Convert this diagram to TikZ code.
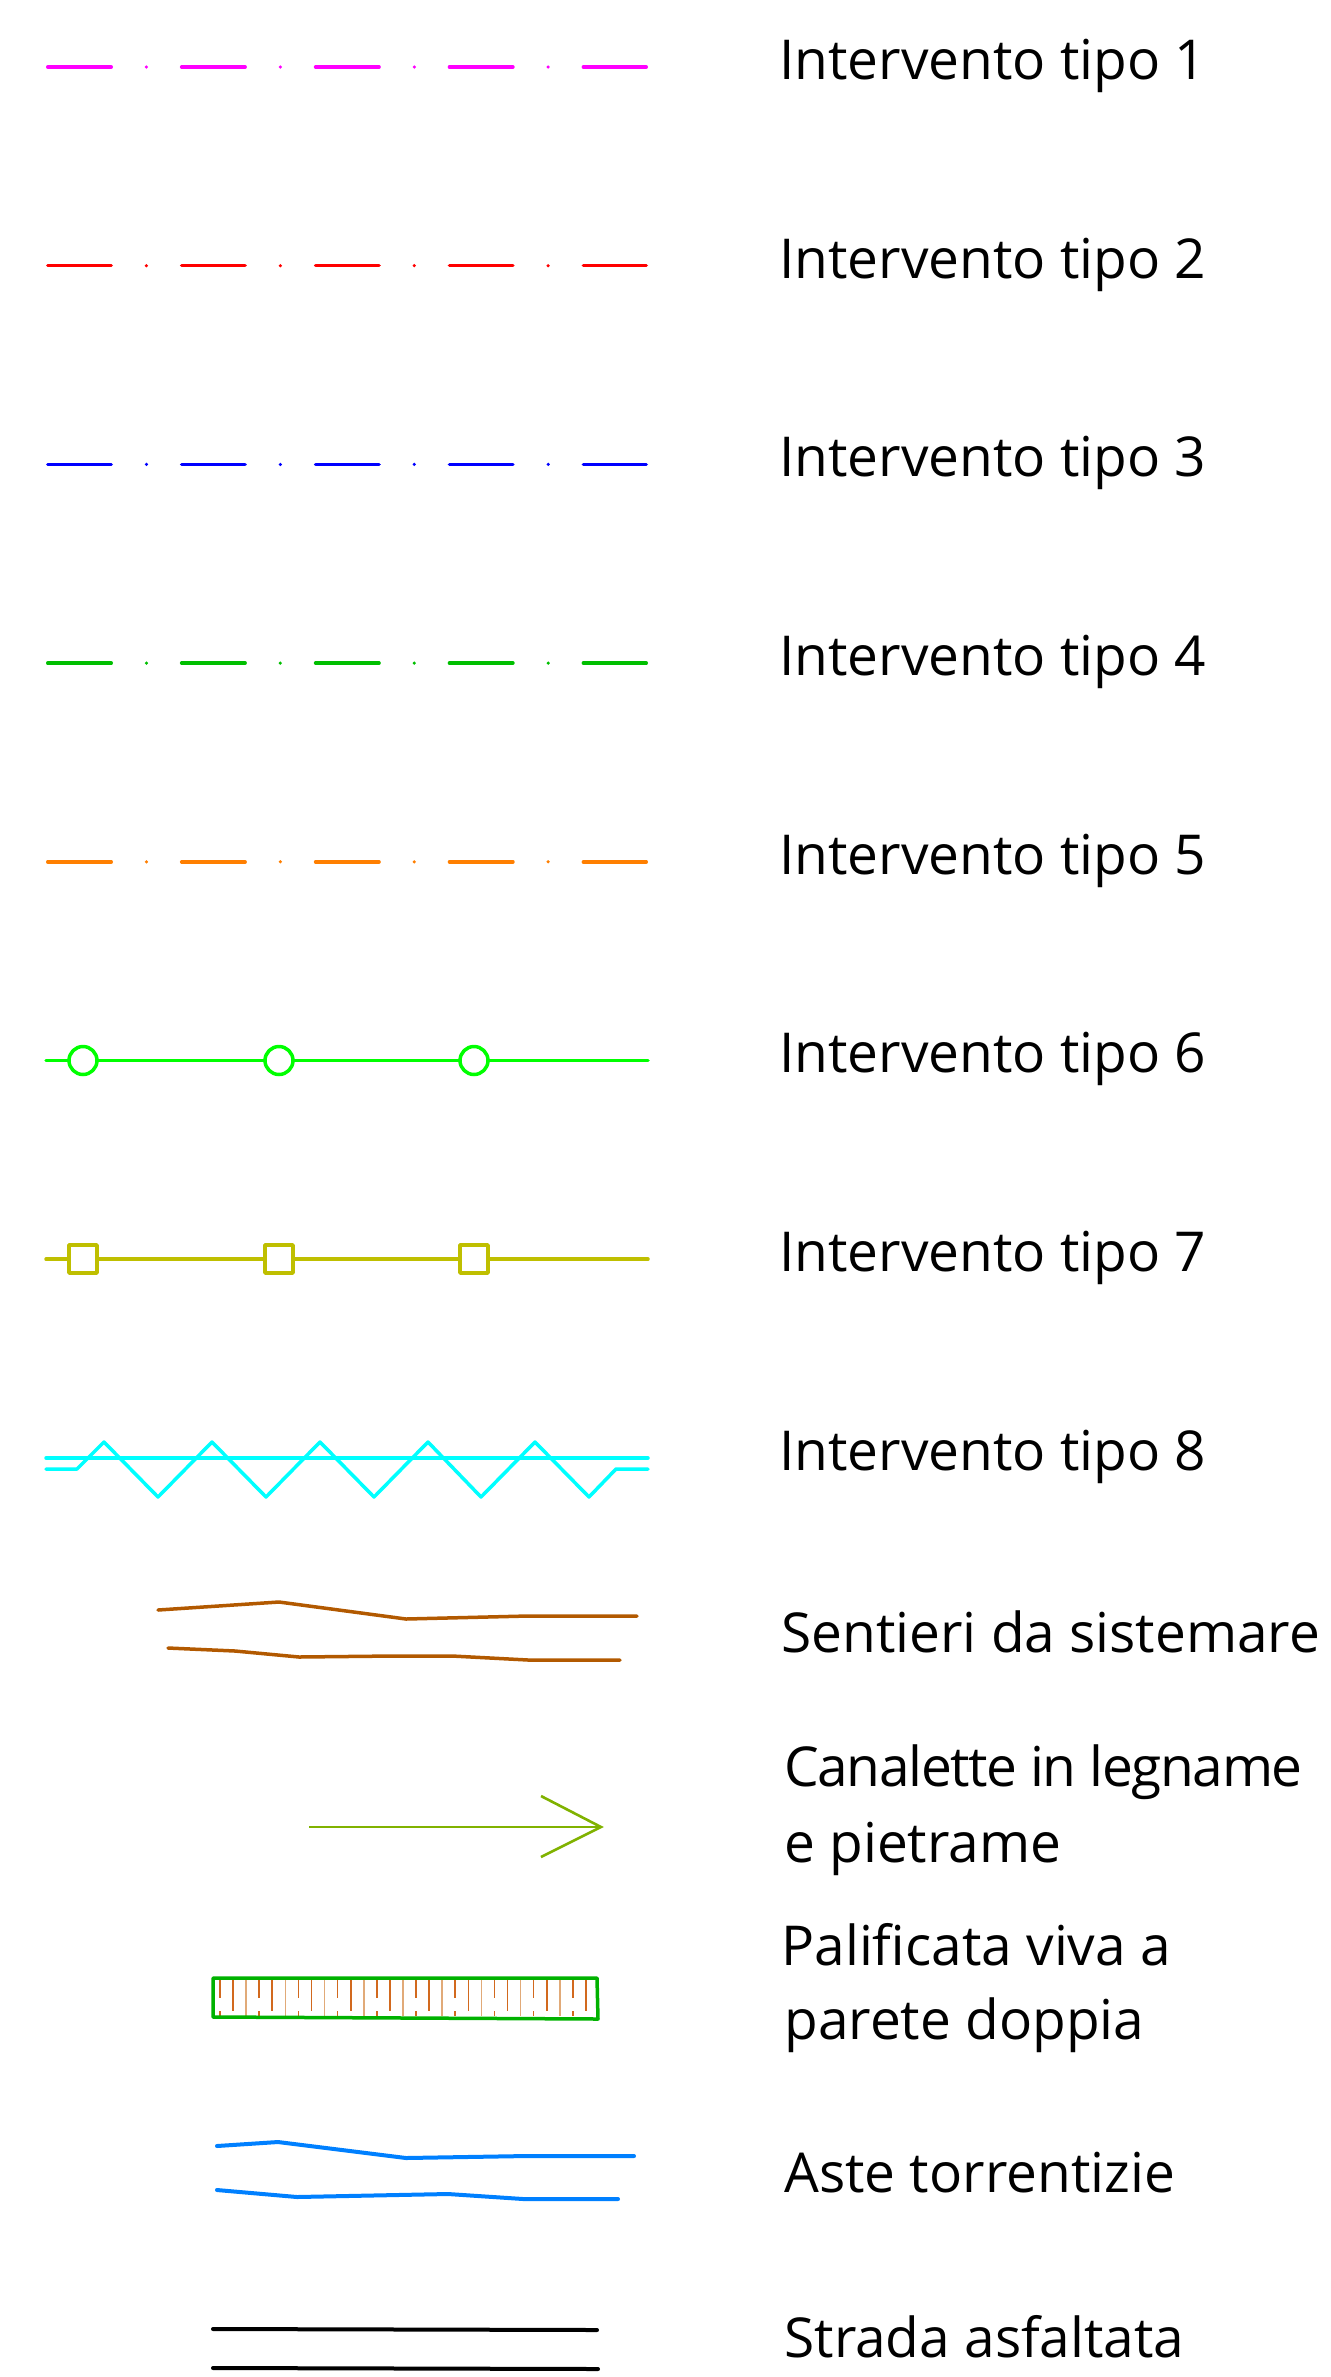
\documentclass[tikz,border=0pt]{standalone}
\usepackage{fontspec}
\setmainfont{Open Sans}
\definecolor{tipo1}{RGB}{255,0,255}
\definecolor{tipo2}{RGB}{255,0,0}
\definecolor{tipo3}{RGB}{0,0,255}
\definecolor{tipo4}{RGB}{0,191,0}
\definecolor{tipo5}{RGB}{255,127,0}
\definecolor{tipo6}{RGB}{0,255,0}
\definecolor{tipo7}{RGB}{191,191,0}
\definecolor{tipo8}{RGB}{0,255,255}
\definecolor{sentiero}{RGB}{178,89,0}
\definecolor{canaletta}{RGB}{128,178,0}
\definecolor{palo}{RGB}{0,178,0}
\definecolor{paloscuro}{RGB}{210,105,30}
\definecolor{palochiaro}{RGB}{225,170,120}
\definecolor{asta}{RGB}{0,128,255}

\begin{document}
\begin{tikzpicture}[x=0.5pt,y=-0.5pt,
                    legline/.style={line width=1.75pt,line cap=round,line join=round},
                    dashdot/.style={legline,dash pattern=on 31.75pt off 17.6pt on 0pt off 17.6pt},
                    lbl/.style={anchor=base west,inner sep=0pt,font=\fontsize{27.5}{38}\selectfont}]

  \useasboundingbox (0,0) rectangle (1331,2377);

  % interventi tratto-punto
  \draw[dashdot,tipo1] (47.75,67)    -- (646.25,67);
  \draw[dashdot,tipo2] (47.75,265.7) -- (646.25,265.7);
  \draw[dashdot,tipo3] (47.75,464.4) -- (646.25,464.4);
  \draw[dashdot,tipo4] (47.75,663.1) -- (646.25,663.1);
  \draw[dashdot,tipo5] (47.75,861.8) -- (646.25,861.8);

  % tipo 6 e 7
  \draw[legline,tipo6] (46,1060.5) -- (648,1060.5);
  \draw[legline,tipo6,fill=white] (83,1060.5) circle (7pt);
  \draw[legline,tipo6,fill=white] (279,1060.5) circle (7pt);
  \draw[legline,tipo6,fill=white] (474,1060.5) circle (7pt);

  \draw[legline,tipo7] (46,1259.2) -- (648,1259.2);
  \draw[legline,tipo7,fill=white] (69,1245) rectangle (97,1273);
  \draw[legline,tipo7,fill=white] (265,1245) rectangle (293,1273);
  \draw[legline,tipo7,fill=white] (460,1245) rectangle (488,1273);

  % tipo 8
  \draw[legline,tipo8] (46,1458) -- (648,1458);
  \draw[legline,tipo8] (46,1469) -- (77,1469) -- (104,1442) -- (158,1497) -- (212,1442)
    -- (266,1497) -- (320,1442) -- (374,1497) -- (428,1442) -- (481,1497)
    -- (535,1442) -- (589,1497) -- (616,1469) -- (648,1469);

  % sentieri
  \draw[legline,sentiero] (158,1610) -- (279,1602) -- (406,1619) -- (528,1616) -- (637,1616);
  \draw[legline,sentiero] (168,1648) -- (235,1651) -- (299,1657) -- (394,1656)
    -- (452,1656) -- (528,1660) -- (620,1660);

  % canalette
  \draw[line width=1.3pt,canaletta] (309,1827) -- (601,1827);
  \draw[line width=1.3pt,canaletta] (541,1796) -- (601,1827) -- (541,1857);

  % palificata
  \foreach \i in {0,...,28}{
    \pgfmathsetmacro{\px}{220+13.07*\i}
    \pgfmathtruncatemacro{\tp}{mod(\i,3)}
    \ifcase\tp
      \draw[line width=0.8pt,paloscuro] (\px,1980) -- (\px,1998) (\px,2011) -- (\px,2016);
    \or
      \draw[line width=0.8pt,paloscuro] (\px,1980) -- (\px,2011);
    \or
      \draw[line width=0.8pt,palochiaro] (\px,1980) -- (\px,2016);
    \fi
  }
  \draw[legline,palo] (213,1978) -- (597,1978) -- (598,2019) -- (213,2017) -- cycle;

  % aste torrentizie
  \draw[line width=2pt,line cap=round,line join=round,asta]
    (217,2146) -- (278,2142) -- (406,2158) -- (527,2156) -- (634,2156);
  \draw[line width=2pt,line cap=round,line join=round,asta]
    (217,2190) -- (297,2197) -- (448,2194) -- (523,2199) -- (618,2199);

  % strada
  \draw[line width=2pt,line cap=round] (213,2329) -- (597,2330);
  \draw[line width=2pt,line cap=round] (213,2368) -- (598,2369);

  % testi
  \node[lbl] (t1) at (779,79)   {Intervento tipo 1};
  \node[lbl] (t2) at (779,278)  {Intervento tipo 2};
  \node[lbl] (t3) at (779,476)  {Intervento tipo 3};
  \node[lbl] (t4) at (779,675)  {Intervento tipo 4};
  \node[lbl] (t5) at (779,874)  {Intervento tipo 5};
  \node[lbl] (t6) at (779,1072) {Intervento tipo 6};
  \node[lbl] (t7) at (779,1271) {Intervento tipo 7};
  \node[lbl] (t8) at (779,1470) {Intervento tipo 8};
  \node[lbl] (sent) at (781,1652) {Sentieri da sistemare};
  \node[lbl] (can1) at (784,1786) {\addfontfeature{LetterSpace=-2.5}Canalette in legname};
  \node[lbl] (can2) at (784,1862) {e pietrame};
  \node[lbl] (pal1) at (781,1965) {Palificata viva a};
  \node[lbl] (pal2) at (784,2039) {parete doppia};
  \node[lbl] (aste) at (784,2192) {Aste torrentizie};
  \node[lbl] (strada) at (784,2357) {Strada asfaltata};

\end{tikzpicture}
\end{document}
